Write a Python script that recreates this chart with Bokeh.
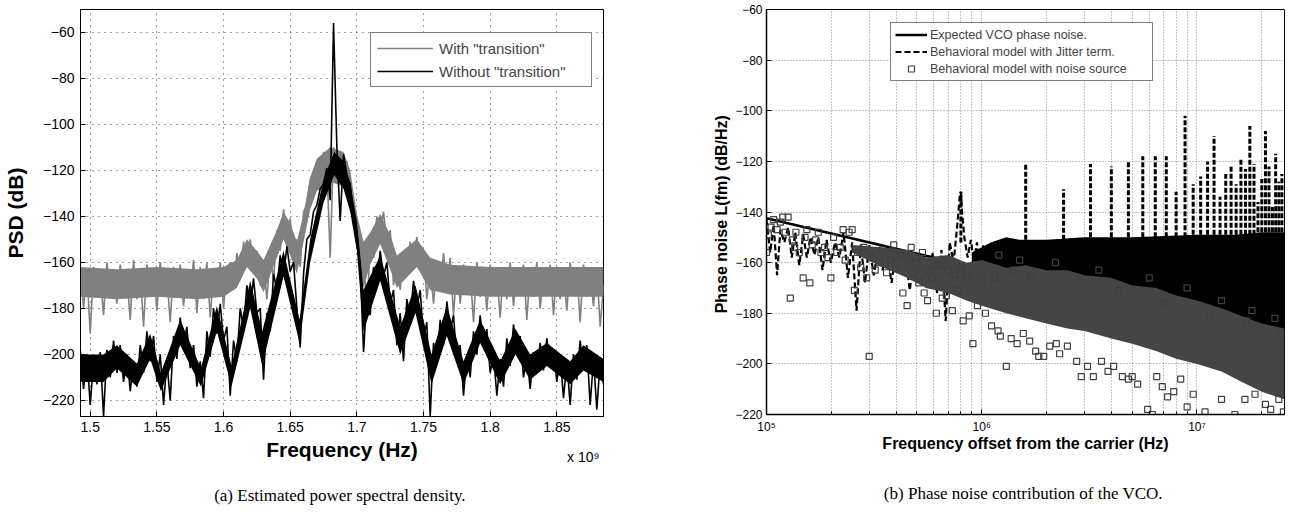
from bokeh.plotting import figure
from bokeh.models import FixedTicker, Legend, LegendItem, Title, Label
from bokeh.layouts import row
from bokeh.embed import file_html
from bokeh.resources import INLINE

# ---------------- (a) Estimated power spectral density ----------------
psd_f_start = 1.4925   # GHz (axis shown as x 10^9 Hz)
psd_f_step = 0.0025
psd_with_transition = [
    -161, -180, -164, -191, -162, -175, -165, -183, -160, -174,
    -163, -178, -161, -172, -166, -185, -159, -176, -164, -188,
    -161, -173, -163, -181, -160, -174, -166, -186, -162, -175,
    -161, -179, -163, -173, -159, -182, -162, -176, -160, -184,
    -164, -175, -160, -180, -163,
    -160, -172, -156, -166, -151, -160, -150, -162, -155, -170,
    -160, -176, -156, -168, -146, -155, -137, -150, -141, -158,
    -150, -162, -138, -135, -124, -128, -116, -122, -112, -118,
    -158, -110, -117, -112, -119, -116, -128, -135, -148, -160,
    -152, -184, -150, -158, -140, -148, -138, -152, -146, -170,
    -158, -172, -156, -165, -151, -160, -149, -162, -155, -176,
    -162, -178, -160, -172, -156, -170, -158, -183,
    -162, -178, -161, -174, -164, -186, -160, -175, -163, -181,
    -161, -173, -165, -184, -162, -176, -160, -179, -164, -172,
    -161, -185, -163, -175, -160, -180, -165, -174, -161, -183,
    -162, -176, -164, -181, -160, -174, -163, -186, -161, -175,
    -165, -179, -162, -188, -170,
]
psd_without_transition = [
    -198, -215, -200, -222, -203, -213, -199, -227, -198, -210,
    -194, -208, -196, -212, -200, -216, -203, -214, -196, -208,
    -190, -203, -192, -212, -200, -222, -203, -220, -192, -202,
    -184, -197, -188, -206, -196, -214, -203, -219, -190, -201,
    -180, -191, -178, -194, -188, -218, -194, -203, -180, -189,
    -170, -180, -167, -182, -180, -211, -182, -190, -165, -172,
    -157, -166, -153, -164, -160, -180, -197, -165, -150, -148,
    -138, -135, -128, -126, -119, -133, -56, -110, -142, -113,
    -122, -126, -140, -148, -162, -199, -175, -183, -162, -170,
    -155, -166, -160, -178, -172, -196, -182, -203, -176, -185,
    -168, -180, -172, -193, -186, -227, -195, -204, -185, -196,
    -177, -190, -183, -203, -196, -218, -200, -210, -190, -200,
    -183, -196, -189, -208, -200, -218, -202, -214, -193, -205,
    -187, -199, -192, -210, -200, -215, -199, -208, -195, -207,
    -193, -205, -198, -212, -201, -219, -203, -222, -200, -211,
    -194, -207, -196, -222, -202, -224, -203, -213,
]
psd_freq = [round(psd_f_start + psd_f_step * i, 4) for i in range(len(psd_with_transition))]

# dense cores of the two noisy spectra (envelopes)
with_core_f = [1.4925, 1.52, 1.55, 1.58, 1.60, 1.61, 1.6175, 1.625, 1.63, 1.64,
               1.645, 1.65, 1.655, 1.66, 1.665, 1.67, 1.68, 1.69, 1.695, 1.70,
               1.705, 1.71, 1.7175, 1.725, 1.73, 1.745, 1.755, 1.77, 1.80, 1.85, 1.885]
with_core_top = [-162, -163, -162, -163, -162, -159, -150, -155, -159, -146,
                 -138, -143, -151, -139, -123, -115, -110, -112, -120, -139,
                 -151, -147, -139, -148, -157, -150, -158, -161, -162, -162, -162]
with_core_bot = [-175, -176, -175, -176, -175, -171, -162, -167, -173, -158,
                 -150, -157, -165, -151, -137, -129, -125, -127, -135, -154,
                 -171, -161, -152, -163, -171, -162, -172, -174, -175, -175, -175]
without_core_f = [1.4925, 1.51, 1.52, 1.535, 1.545, 1.553, 1.5675, 1.583, 1.595, 1.606,
                  1.62, 1.629, 1.645, 1.657, 1.665, 1.675, 1.683, 1.69, 1.695, 1.70,
                  1.705, 1.7175, 1.7325, 1.744, 1.756, 1.7675, 1.78, 1.7925, 1.8075, 1.819,
                  1.83, 1.8425, 1.86, 1.87, 1.885]
without_core_top = [-200, -200, -196, -204, -191, -208, -185, -206, -179, -205,
                    -168, -190, -155, -185, -150, -124, -112, -116, -126, -142,
                    -172, -157, -188, -170, -200, -179, -203, -185, -203, -189,
                    -200, -195, -203, -196, -202]
without_core_bot = [-212, -212, -206, -214, -202, -216, -196, -214, -190, -214,
                    -180, -205, -166, -195, -160, -134, -122, -128, -138, -155,
                    -190, -168, -200, -182, -213, -192, -213, -195, -213, -200,
                    -211, -205, -213, -207, -212]

a_xticks = [1.5, 1.55, 1.6, 1.65, 1.7, 1.75, 1.8, 1.85]
a_xtick_labels = ["1.5", "1.55", "1.6", "1.65", "1.7", "1.75", "1.8", "1.85"]
a_yticks = [-220, -200, -180, -160, -140, -120, -100, -80, -60]
a_ytick_labels = ["\u2212220", "\u2212200", "\u2212180", "\u2212160", "\u2212140",
                  "\u2212120", "\u2212100", "\u221280", "\u221260"]
a_x_multiplier = "x 10\u2079"

# ---------------- (b) Phase noise contribution of the VCO ----------------
expected_f = [1e5, 2.55e7]
expected_db = [-142.5, -190.6]

jitter_f = [1.00e5, 1.04e5, 1.08e5, 1.12e5, 1.16e5, 1.21e5, 1.26e5, 1.31e5, 1.36e5, 1.42e5,
            1.48e5, 1.54e5, 1.60e5, 1.67e5, 1.74e5, 1.82e5, 1.90e5, 1.99e5, 2.08e5, 2.18e5,
            2.28e5, 2.39e5, 2.50e5, 2.62e5, 2.74e5, 2.87e5, 3.00e5, 3.15e5, 3.30e5, 3.46e5,
            3.63e5, 3.81e5, 4.00e5, 4.20e5, 4.41e5, 4.63e5, 4.86e5, 5.10e5, 5.35e5, 5.62e5,
            5.90e5, 6.20e5, 6.50e5, 6.80e5, 7.10e5, 7.40e5, 7.70e5, 7.90e5, 8.00e5, 8.10e5,
            8.30e5, 8.60e5, 8.90e5, 9.20e5, 9.50e5, 9.80e5, 1.02e6, 1.06e6, 1.10e6, 1.15e6,
            1.20e6]
jitter_db = [-143, -156, -145, -165, -147, -152, -146, -158, -148, -161,
             -149, -158, -150, -157, -150, -163, -151, -160, -152, -158,
             -148, -166, -152, -179, -153, -168, -153, -165, -154, -163,
             -155, -168, -155, -162, -156, -171, -156, -165, -157, -167,
             -156, -172, -155, -183, -152, -160, -145, -134, -132, -140,
             -150, -158, -151, -160, -152, -162, -153, -163, -154, -166,
             -152]
# dense part of the jitter-term trace (envelope)
jitter_band_f = [9e5, 1.1e6, 1.3e6, 1.5e6, 2e6, 3e6, 5e6, 1e7, 1.5e7, 2e7, 2.55e7]
jitter_band_top = [-156, -152, -150, -151, -151, -150, -150, -149, -149, -148, -148]
jitter_band_bot = [-160, -165, -167, -169, -172, -176, -181, -185, -187, -188, -189]
# spurs of the jitter-term trace
spur_f = [0.8e6, 1.6e6, 2.4e6, 3.2e6, 4.0e6, 4.8e6, 5.6e6, 6.4e6, 7.2e6, 8.0e6,
          8.8e6, 9.6e6, 1.04e7, 1.12e7, 1.2e7, 1.28e7, 1.36e7, 1.44e7, 1.52e7, 1.6e7,
          1.68e7, 1.76e7, 1.84e7, 1.92e7, 2.0e7, 2.08e7, 2.16e7, 2.24e7, 2.32e7, 2.4e7,
          2.48e7]
spur_peak = [-132, -121, -131, -121, -122, -120, -118, -118, -118, -132,
             -102, -129, -126, -120, -110, -134, -125, -122, -129, -119,
             -123, -106, -121, -136, -127, -108, -122, -138, -117, -128,
             -125]
spur_base = [-152, -151, -151, -150, -150, -150, -150, -150, -150, -150,
             -150, -149, -149, -149, -149, -149, -149, -149, -149, -149,
             -149, -149, -149, -148, -148, -148, -148, -148, -148, -148,
             -148]

# noise-source squares: dense core envelope + individual points
noise_core_f = [2.5e5, 3.5e5, 4.5e5, 5.5e5, 7e5, 8.5e5, 1e6, 1.3e6, 1.6e6, 2e6, 2.5e6,
                3e6, 4e6, 5e6, 6.5e6, 8e6, 1e7, 1.3e7, 1.6e7, 2e7, 2.55e7]
noise_core_top = [-153, -154, -155, -158, -157, -160, -159, -162, -161, -163, -163,
                  -165, -166, -169, -170, -173, -175, -178, -181, -184, -186]
noise_core_bot = [-156, -162, -166, -170, -172, -175, -177, -180, -182, -184, -186,
                  -187, -190, -192, -195, -198, -200, -203, -207, -211, -214]
noise_f = [1.00e5, 1.02e5, 1.05e5, 1.08e5, 1.12e5, 1.16e5, 1.19e5, 1.22e5, 1.26e5, 1.29e5,
           1.32e5, 1.35e5, 1.37e5, 1.42e5, 1.48e5, 1.51e5, 1.54e5, 1.59e5, 1.63e5, 1.69e5,
           1.74e5, 1.79e5, 1.86e5, 1.93e5, 1.99e5, 2.05e5, 2.12e5, 2.20e5, 2.27e5, 2.32e5,
           2.42e5, 2.50e5, 2.56e5, 2.65e5, 2.74e5, 2.83e5, 2.92e5, 3.00e5, 3.09e5, 3.20e5,
           3.33e5, 3.46e5, 3.61e5, 3.77e5, 3.98e5, 4.30e5, 4.50e5, 4.60e5, 4.80e5, 5.10e5,
           5.40e5, 5.60e5, 5.90e5, 6.15e5, 6.55e5, 6.85e5, 7.30e5, 7.70e5, 8.20e5, 8.75e5,
           9.10e5, 9.55e5, 1.04e6, 1.11e6, 1.19e6, 1.22e6, 1.30e6, 1.37e6, 1.46e6, 1.56e6,
           1.67e6, 1.78e6, 1.84e6, 1.94e6, 2.07e6, 2.22e6, 2.30e6, 2.50e6, 2.76e6, 2.90e6,
           3.10e6, 3.30e6, 3.60e6, 3.86e6, 4.10e6, 4.50e6, 4.80e6, 5.00e6, 5.30e6, 5.90e6,
           6.20e6, 6.50e6, 6.90e6, 7.30e6, 7.80e6, 8.40e6, 9.00e6, 9.60e6, 1.09e7, 1.30e7,
           1.50e7, 1.67e7, 1.86e7, 2.08e7, 2.20e7, 2.40e7, 2.52e7, 1.20e6, 1.50e6, 2.20e6,
           3.50e6, 6.00e6, 9.00e6, 1.30e7, 1.80e7, 2.30e7, 6.3e5, 7.0e5, 8.5e5, 1.0e6,
           3.9e5, 4.2e5, 4.7e5, 5.0e5, 5.3e5, 5.7e5, 6.0e5, 6.7e5, 7.5e5, 8.0e5,
           9.3e5, 1.15e6, 1.4e6, 1.7e6, 2.6e6, 4.3e6, 7.0e6, 1.15e7, 1.7e7, 2.45e7]
noise_db = [-156, -149, -146, -143, -147, -144, -142, -148, -142, -174,
            -151, -154, -148, -156, -166, -150, -147, -168, -153, -151,
            -148, -156, -154, -158, -166, -150, -156, -154, -147, -159,
            -148, -147, -171, -156, -162, -154, -166, -197, -158, -163,
            -160, -155, -164, -159, -162, -172, -177, -158, -164, -168,
            -172, -175, -166, -180, -174, -173, -179, -171, -183, -181,
            -192, -177, -180, -185, -187, -189, -201, -190, -192, -188,
            -191, -195, -197, -197, -193, -192, -196, -193, -199, -205,
            -201, -205, -199, -203, -201, -205, -206, -205, -208, -218,
            -220, -205, -209, -213, -211, -206, -217, -212, -219, -214,
            -220, -214, -212, -216, -218, -214, -219, -157, -159, -160,
            -163, -166, -170, -175, -179, -182, -161, -163, -165, -167,
            -153, -157, -154, -160, -156, -163, -161, -159, -165, -162,
            -164, -166, -163, -165, -167, -171, -176, -180, -183, -188]

b_xticks = [1e5, 1e6, 1e7]
b_xminor = [2e5, 3e5, 4e5, 5e5, 6e5, 7e5, 8e5, 9e5,
            2e6, 3e6, 4e6, 5e6, 6e6, 7e6, 8e6, 9e6, 2e7]
b_xtick_labels = ["10\u2075", "10\u2076", "10\u2077"]
b_yticks = [-220, -200, -180, -160, -140, -120, -100, -80, -60]
b_ytick_labels = a_ytick_labels

SANS = "Liberation Sans"
SERIF = "Liberation Serif"

# ---------------- figure (a) ----------------
p1 = figure(frame_width=523, frame_height=407, x_range=(1.4927, 1.885), y_range=(-227, -50.1),
            output_backend="svg", toolbar_location=None,
            min_border_left=79, min_border_right=38, min_border_top=7, min_border_bottom=96)
p1.outline_line_color = "black"
p1.outline_line_width = 1
p1.varea(x=with_core_f, y1=with_core_bot, y2=with_core_top, fill_color="#808080")
r_with = p1.line(psd_freq, psd_with_transition, line_color="#808080", line_width=1.6)
p1.varea(x=without_core_f, y1=without_core_bot, y2=without_core_top, fill_color="black")
r_without = p1.line(psd_freq, psd_without_transition, line_color="black", line_width=1.6)

p1.xaxis.ticker = FixedTicker(ticks=a_xticks, minor_ticks=[])
p1.xaxis.major_label_overrides = {t: l for t, l in zip(a_xticks, a_xtick_labels)}
p1.yaxis.ticker = FixedTicker(ticks=a_yticks, minor_ticks=[])
p1.yaxis.major_label_overrides = {t: l for t, l in zip(a_yticks, a_ytick_labels)}
for ax in (p1.xaxis[0], p1.yaxis[0]):
    ax.major_tick_in = 5
    ax.major_tick_out = 0
    ax.minor_tick_in = 0
    ax.minor_tick_out = 0
    ax.axis_line_color = "black"
    ax.major_tick_line_color = "black"
    ax.major_label_text_font = SANS
    ax.major_label_text_font_size = "14px"
    ax.major_label_text_color = "black"
    ax.axis_label_text_font = SANS
    ax.axis_label_text_font_style = "bold"
    ax.axis_label_text_font_size = "21px"
    ax.axis_label_text_color = "black"
p1.xaxis.axis_label = "Frequency (Hz)"
p1.yaxis.axis_label = "PSD (dB)"
p1.xaxis.major_label_standoff = 5
p1.xaxis.axis_label_standoff = 3
p1.yaxis.major_label_standoff = 6
p1.yaxis.axis_label_standoff = 13
for g in (p1.xgrid[0], p1.ygrid[0]):
    g.grid_line_color = "#404040"
    g.grid_line_dash = "1 5"
    g.grid_line_width = 1

leg1 = Legend(items=[LegendItem(label='With "transition"', renderers=[r_with]),
                     LegendItem(label='Without "transition"', renderers=[r_without])],
              location=(290, 329), padding=6, spacing=5, label_height=18, glyph_height=18,
              glyph_width=56, label_standoff=6, label_width=146, margin=0,
              label_text_font=SANS, label_text_font_size="15px",
              border_line_color="black", border_line_width=1, background_fill_alpha=1)
p1.add_layout(leg1)

# "x 10^9" exponent note under the right end of the x axis (placed from the right side panel)
p1.add_layout(Label(x=-4, y=-40, x_units="screen", y_units="screen",
                    text=a_x_multiplier, text_align="right", text_baseline="middle",
                    text_font=SANS, text_font_size="14px", text_color="black"), "right")
p1.add_layout(Title(text="(a)  Estimated power spectral density.", align="center", offset=-10,
                    standoff=41, text_font=SERIF, text_font_size="17px",
                    text_font_style="normal", text_color="black"), "below")

# ---------------- figure (b) ----------------
p2 = figure(frame_width=518, frame_height=405, x_axis_type="log",
            x_range=(1e5, 2.55e7), y_range=(-220, -60),
            output_backend="svg", toolbar_location=None,
            min_border_left=125, min_border_right=5, min_border_top=9, min_border_bottom=96)
p2.outline_line_color = "black"
p2.outline_line_width = 1
r_exp = p2.line(expected_f, expected_db, line_color="black", line_width=2.6)
r_jit = p2.line(jitter_f, jitter_db, line_color="black", line_width=2.2, line_dash="6 3")
p2.varea(x=jitter_band_f, y1=jitter_band_bot, y2=jitter_band_top, fill_color="black")
p2.segment(x0=spur_f, y0=spur_base, x1=spur_f, y1=spur_peak, line_color="black",
           line_width=3, line_dash="5 2")
p2.varea(x=noise_core_f, y1=noise_core_bot, y2=noise_core_top, fill_color="#454545")
r_noise = p2.scatter(noise_f, noise_db, marker="square", size=6, fill_alpha=0,
                     line_color="#404040", line_width=1.2)

p2.xaxis.ticker = FixedTicker(ticks=b_xticks, minor_ticks=b_xminor)
p2.xaxis.major_label_overrides = {t: l for t, l in zip(b_xticks, b_xtick_labels)}
p2.yaxis.ticker = FixedTicker(ticks=b_yticks, minor_ticks=[])
p2.yaxis.major_label_overrides = {t: l for t, l in zip(b_yticks, b_ytick_labels)}
for ax in (p2.xaxis[0], p2.yaxis[0]):
    ax.major_tick_in = 5
    ax.major_tick_out = 0
    ax.minor_tick_in = 3
    ax.minor_tick_out = 0
    ax.axis_line_color = "black"
    ax.axis_line_width = 1.5
    ax.major_tick_line_color = "black"
    ax.minor_tick_line_color = "black"
    ax.major_label_text_font = SANS
    ax.major_label_text_font_size = "12px"
    ax.major_label_text_color = "black"
    ax.axis_label_text_font = SANS
    ax.axis_label_text_font_style = "bold"
    ax.axis_label_text_font_size = "16px"
    ax.axis_label_text_color = "black"
p2.xaxis.axis_label = "Frequency offset from the carrier (Hz)"
p2.yaxis.axis_label = "Phase noise L(fm)  (dB/Hz)"
p2.xaxis.major_label_standoff = 5
p2.xaxis.axis_label_standoff = -2
p2.yaxis.major_label_standoff = 4
p2.yaxis.axis_label_standoff = 2
p2.xgrid.grid_line_color = "#8c8c8c"
p2.xgrid.grid_line_dash = "1 2"
p2.xgrid.minor_grid_line_color = "#8c8c8c"
p2.xgrid.minor_grid_line_dash = "1 2"
p2.ygrid.grid_line_color = "#8c8c8c"
p2.ygrid.grid_line_dash = "1 2"

leg2 = Legend(items=[LegendItem(label="Expected VCO phase noise.", renderers=[r_exp]),
                     LegendItem(label="Behavioral model with Jitter term.", renderers=[r_jit]),
                     LegendItem(label="Behavioral model with noise source", renderers=[r_noise])],
              location=(124, 333), padding=4, spacing=2, label_height=15, glyph_height=15,
              glyph_width=32, label_standoff=3, label_width=218, margin=0,
              label_text_font=SANS, label_text_font_size="12.5px",
              border_line_color="black", border_line_width=1, background_fill_alpha=1)
p2.add_layout(leg2)
p2.add_layout(Title(text="(b)  Phase noise contribution of the VCO.", align="center", offset=-7,
                    standoff=55, text_font=SERIF, text_font_size="17px",
                    text_font_style="normal", text_color="black"), "below")

layout = row(p1, p2)
open("out.html", "w").write(file_html(layout, INLINE))
